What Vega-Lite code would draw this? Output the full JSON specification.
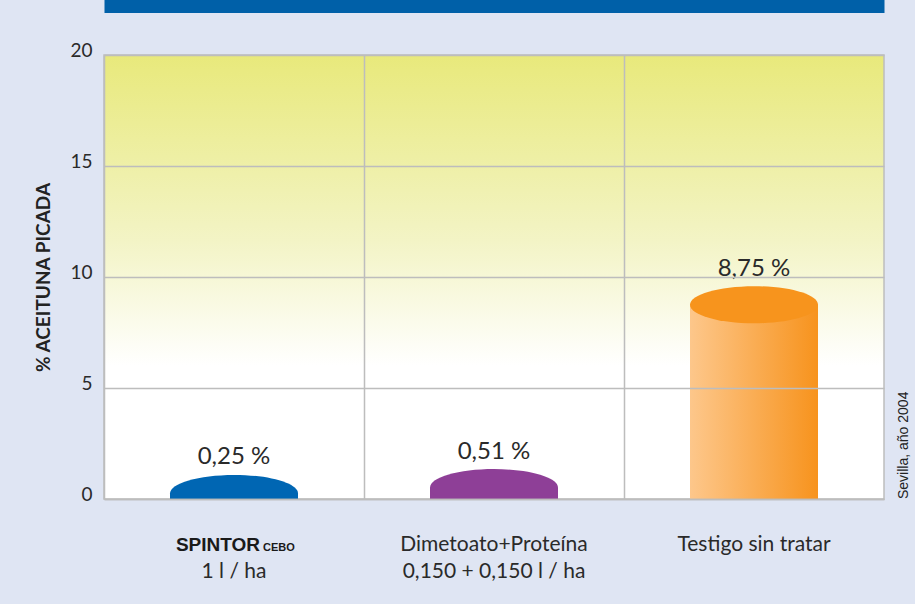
{
  "$schema": "https://vega.github.io/schema/vega-lite/v6.json",
  "width": 780,
  "height": 444,
  "autosize": {"type": "none"},
  "padding": {"left": 104, "top": 55, "right": 31, "bottom": 105},
  "background": "#dfe5f3",
  "config": {
    "view": {
      "fill": {
        "gradient": "linear", "x1": 0, "y1": 0, "x2": 0, "y2": 1,
        "stops": [
          {"offset": 0, "color": "#e8e97b"},
          {"offset": 0.42, "color": "#f3f4c6"},
          {"offset": 0.7, "color": "#ffffff"},
          {"offset": 1, "color": "#ffffff"}
        ]
      },
      "stroke": "#bdbdbd",
      "strokeWidth": 1.5
    },
    "font": "Lato",
    "axis": {"labelFont": "Lato", "titleFont": "Lato"}
  },
  "title": {
    "text": "Sevilla, año 2004",
    "orient": "right",
    "frame": "group",
    "anchor": "end",
    "angle": 270,
    "align": "left",
    "baseline": "top",
    "offset": -1,
    "font": "Liberation Sans",
    "fontSize": 14,
    "fontWeight": "normal",
    "color": "#222222"
  },
  "data": {
    "values": [
      {"tratamiento": "SPINTOR CEBO 1 l / ha", "picada": 0.25, "etiqueta": "0,25 %", "linea1": "SPINTOR", "sufijo": "CEBO", "linea2": "1 l / ha"},
      {"tratamiento": "Dimetoato+Proteína 0,150 + 0,150 l / ha", "picada": 0.51, "etiqueta": "0,51 %", "linea1": "Dimetoato+Proteína", "sufijo": "", "linea2": "0,150 + 0,150 l / ha"},
      {"tratamiento": "Testigo sin tratar", "picada": 8.75, "etiqueta": "8,75 %", "linea1": "Testigo sin tratar", "sufijo": "", "linea2": ""}
    ]
  },
  "layer": [
    {
      "mark": {"type": "bar", "size": 128},
      "encoding": {
        "x": {
          "field": "tratamiento", "type": "nominal",
          "scale": {"domain": ["SPINTOR CEBO 1 l / ha", "Dimetoato+Proteína 0,150 + 0,150 l / ha", "Testigo sin tratar"], "paddingInner": 0, "paddingOuter": 0},
          "axis": {"orient": "bottom", "grid": true, "bandPosition": 0, "gridColor": "#bdbdbd", "gridWidth": 1.5, "zindex": 1, "labels": false, "ticks": false, "domain": true, "domainColor": "#bdbdbd", "domainWidth": 1.5, "title": null}
        },
        "y": {
          "field": "picada",
          "type": "quantitative",
          "scale": {"domain": [0, 20], "nice": false},
          "title": "% ACEITUNA PICADA",
          "axis": {
            "values": [0, 5, 10, 15, 20],
            "grid": true,
            "gridColor": "#bdbdbd",
            "gridWidth": 1.5,
            "zindex": 1,
            "domain": false,
            "ticks": false,
            "labelPadding": 12,
            "labelFontSize": 19,
            "labelColor": "#2a2a2a",
            "labelBaseline": "alphabetic",
            "labelOffset": 1,
            "titleFontSize": 19,
            "titleFontWeight": "bold",
            "titleColor": "#222222",
            "titlePadding": 16
          }
        },
        "color": {
          "field": "tratamiento", "type": "nominal",
          "scale": {"domain": ["SPINTOR CEBO 1 l / ha", "Dimetoato+Proteína 0,150 + 0,150 l / ha", "Testigo sin tratar"], "range": ["#0066b3", "#8e3f97", "#f7941d"]},
          "legend": null
        }
      }
    },
    {
      "transform": [{"filter": "datum.tratamiento == 'Testigo sin tratar'"}],
      "mark": {
        "type": "bar", "size": 128,
        "color": {
          "gradient": "linear", "x1": 0, "y1": 0, "x2": 1, "y2": 0,
          "stops": [
            {"offset": 0, "color": "#fdc78b"},
            {"offset": 1, "color": "#f7931d"}
          ]
        }
      },
      "encoding": {
        "x": {"field": "tratamiento", "type": "nominal", "axis": null},
        "y": {"field": "picada", "type": "quantitative", "title": "% ACEITUNA PICADA"}
      }
    },
    {
      "mark": {
        "type": "point",
        "shape": "M -1 0 C -1 -0.16 -0.552 -0.29 0 -0.29 C 0.552 -0.29 1 -0.16 1 0 C 1 0.16 0.552 0.29 0 0.29 C -0.552 0.29 -1 0.16 -1 0 Z",
        "size": 16384,
        "filled": true,
        "opacity": 1,
        "strokeWidth": 0,
        "clip": true
      },
      "encoding": {
        "x": {
          "field": "tratamiento", "type": "nominal",
          "axis": {"orient": "top", "domain": true, "domainColor": "#0060a8", "domainWidth": 13, "offset": 49, "labels": false, "ticks": false, "grid": false, "title": null}
        },
        "y": {"field": "picada", "type": "quantitative", "title": "% ACEITUNA PICADA"},
        "color": {"field": "tratamiento", "type": "nominal", "legend": null}
      }
    },
    {
      "mark": {"type": "text", "fontSize": 24, "color": "#2a2a2a", "baseline": "alphabetic", "dy": -29},
      "encoding": {
        "x": {"field": "tratamiento", "type": "nominal", "axis": null},
        "y": {"field": "picada", "type": "quantitative", "title": "% ACEITUNA PICADA"},
        "text": {"field": "etiqueta"}
      }
    },
    {
      "transform": [{"filter": "datum.sufijo == ''"}],
      "mark": {"type": "text", "fontSize": 21, "color": "#2a2a2a", "baseline": "alphabetic", "dy": 52},
      "encoding": {
        "x": {"field": "tratamiento", "type": "nominal", "axis": null},
        "y": {"datum": 0, "type": "quantitative", "title": "% ACEITUNA PICADA"},
        "text": {"field": "linea1"}
      }
    },
    {
      "transform": [{"filter": "datum.sufijo != ''"}],
      "mark": {"type": "text", "font": "Liberation Sans", "fontWeight": "bold", "fontSize": 19, "color": "#1a1a1a", "baseline": "alphabetic", "align": "right", "dx": 26, "dy": 52},
      "encoding": {
        "x": {"field": "tratamiento", "type": "nominal", "axis": null},
        "y": {"datum": 0, "type": "quantitative", "title": "% ACEITUNA PICADA"},
        "text": {"field": "linea1"}
      }
    },
    {
      "transform": [{"filter": "datum.sufijo != ''"}],
      "mark": {"type": "text", "font": "Liberation Sans", "fontWeight": "bold", "fontSize": 11, "color": "#1a1a1a", "baseline": "alphabetic", "align": "left", "dx": 29, "dy": 52},
      "encoding": {
        "x": {"field": "tratamiento", "type": "nominal", "axis": null},
        "y": {"datum": 0, "type": "quantitative", "title": "% ACEITUNA PICADA"},
        "text": {"field": "sufijo"}
      }
    },
    {
      "mark": {"type": "text", "fontSize": 21, "color": "#2a2a2a", "baseline": "alphabetic", "dy": 79},
      "encoding": {
        "x": {"field": "tratamiento", "type": "nominal", "axis": null},
        "y": {"datum": 0, "type": "quantitative", "title": "% ACEITUNA PICADA"},
        "text": {"field": "linea2"}
      }
    }
  ],
  "resolve": {"axis": {"x": "independent"}}
}
